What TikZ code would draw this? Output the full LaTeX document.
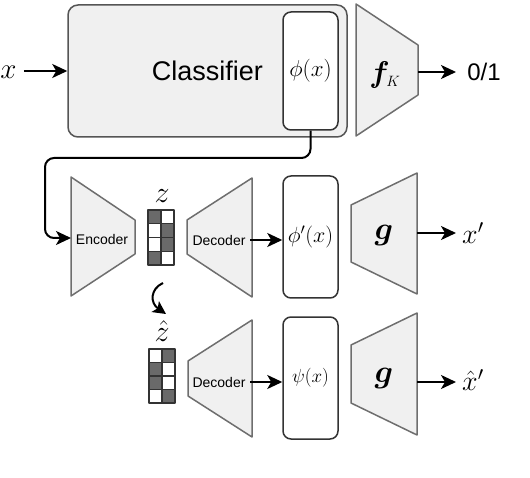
\RequirePackage{fix-cm}
\documentclass[tikz,border=0pt]{standalone}
\usepackage{amsmath,bm}
\usepackage{fontspec}
\setsansfont{Liberation Sans}
\usetikzlibrary{arrows.meta}
\definecolor{boxfill}{HTML}{F0F0F0}
\definecolor{shapestroke}{HTML}{555555}
\definecolor{trapstroke}{HTML}{6E6E6E}
\definecolor{celld}{HTML}{6A6A6A}
\definecolor{celllinec}{HTML}{333333}
\begin{document}
\begin{tikzpicture}[x=1pt,y=-1pt,line join=round,
  bigbox/.style={draw=shapestroke,fill=boxfill,line width=1.5pt,rounded corners=10pt,inner sep=0pt},
  featbox/.style={draw=celllinec,fill=white,line width=1.5pt,rounded corners=8pt,inner sep=0pt,minimum width=55pt},
  trap/.style={draw=trapstroke,fill=boxfill,line width=1.5pt},
  cellline/.style={draw=celllinec,line width=1.3pt},
  tipshape/.style={-{Stealth[length=15pt,width=14pt,inset=4pt]}},
  arr/.style={line width=2pt,tipshape},
  lbl/.style={inner sep=0pt},
  sanslbl/.style={inner sep=0pt,font=\sffamily\fontsize{14}{16}\selectfont},
]
\useasboundingbox (0,0) rectangle (530,478);

% ---------------- top row: classifier ----------------
\node[bigbox,minimum width=279pt,minimum height=132pt,font=\sffamily\fontsize{27}{32}\selectfont] (clf) at (207.5,71) {Classifier};
\node[featbox,minimum height=118pt,font=\fontsize{23}{27}\selectfont] (phi) at (310.5,71) {$\phi(x)$};
\draw[trap] (356,4) -- (418,45) -- (418,95) -- (356,136) -- cycle;
\coordinate (fkout) at (418,72);
\node[lbl,font=\fontsize{30}{34}\selectfont] (fk) at (385,75) {$\bm{f}_{\scriptscriptstyle K}$};
\node[lbl,font=\fontsize{29}{32}\selectfont] (xin) at (8.5,72) {$x$};
\node[lbl,font=\sffamily\fontsize{24}{28}\selectfont] (out) at (484,72) {0/1};
\draw[arr,shorten <=7pt] (xin.east |- clf.west) -- (clf.west);
\draw[arr] (fkout) -- (out.west -| 456,0);

% ---------------- middle row ----------------
\draw[trap] (71,177) -- (135,220) -- (135,254) -- (71,296) -- cycle;
\coordinate (encin) at (71,238);
\node[sanslbl] (enc) at (102,239) {Encoder};
\draw[arr,rounded corners=9pt]
  (phi.south) -- (310.5,158) -- (45,158) -- (45,238) -- (encin);

% z vector
\foreach \r/\ca/\cb in {0/celld/white,1/white/celld,2/white/celld,3/celld/white}{
  \draw[cellline,fill=\ca] (148,{210+13.75*\r}) rectangle ++(13,13.75);
  \draw[cellline,fill=\cb] (161,{210+13.75*\r}) rectangle ++(13,13.75);
}
\node[lbl,font=\fontsize{30}{34}\selectfont] (z) at (162,196) {$z$};

\draw[trap] (187,220) -- (252,178) -- (252,297) -- (187,254) -- cycle;
\node[sanslbl] (dec1) at (219,240) {Decoder};
\coordinate (dec1out) at (250,240);
\node[featbox,minimum height=122pt,font=\fontsize{22}{26}\selectfont] (phip) at (310.5,237) {$\phi'(x)$};
\draw[arr] (dec1out) -- (phip.west |- dec1out);

\draw[trap] (351,205) -- (417,173) -- (417,294) -- (351,262) -- cycle;
\node[lbl,font=\fontsize{32}{36}\selectfont] (g1) at (384,236) {$\bm{g}$};
\coordinate (g1out) at (417,233);
\node[lbl,font=\fontsize{28}{32}\selectfont,anchor=west] (xp) at (462,233) {$x'$};
\draw[arr] (g1out) -- (456,233);

% curved arrow z -> zhat
\draw[line width=2pt,-{Stealth[length=13pt,width=13pt,inset=3pt]}] (163,283) .. controls (150,289) and (150,303) .. (166,314);

% ---------------- bottom row ----------------
\foreach \r/\ca/\cb in {0/white/celld,1/celld/white,2/celld/white,3/white/celld}{
  \draw[cellline,fill=\ca] (149,{349+13.5*\r}) rectangle ++(13,13.5);
  \draw[cellline,fill=\cb] (162,{349+13.5*\r}) rectangle ++(13,13.5);
}
\node[lbl,font=\fontsize{30}{34}\selectfont] (zh) at (162,331) {$\hat{z}$};

\draw[trap] (188,361) -- (252,320) -- (252,437) -- (188,396) -- cycle;
\node[sanslbl] (dec2) at (219,382) {Decoder};
\coordinate (dec2out) at (250,382);
\node[featbox,minimum height=122pt,font=\fontsize{19}{23}\selectfont] (psi) at (310.5,378) {$\psi(x)$};
\draw[arr] (dec2out) -- (psi.west |- dec2out);

\draw[trap] (351,345) -- (417,313) -- (417,435) -- (351,403) -- cycle;
\node[lbl,font=\fontsize{32}{36}\selectfont] (g2) at (384,378) {$\bm{g}$};
\coordinate (g2out) at (417,382);
\node[lbl,font=\fontsize{28}{32}\selectfont,anchor=west] (xhp) at (462,380) {$\hat{x}'$};
\draw[arr] (g2out) -- (456,382);
\end{tikzpicture}
\end{document}
